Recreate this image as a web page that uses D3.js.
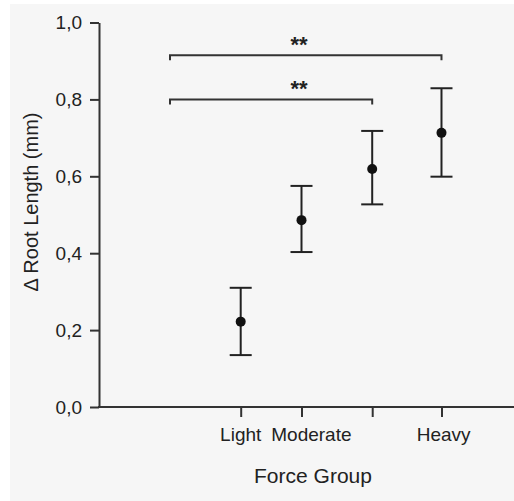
<!DOCTYPE html>
<meta charset="utf-8">
<style>
body { margin: 0; background: #fff; }
svg text { font-family: "Liberation Sans", Arial, sans-serif; fill: #222; }
.axis path, .axis line { stroke: #333; stroke-width: 2; }
</style>
<svg width="514" height="501"></svg>
<script src="https://d3js.org/d3.v7.min.js"></script>
<script>
"use strict";

// data
var groups = ["Light", "Moderate", "", "Heavy"];
var groupX = [1, 1.86, 2.86, 3.84];
var means = [0.222, 0.486, 0.619, 0.713];
var upper = [0.310, 0.575, 0.718, 0.829];
var lower = [0.135, 0.403, 0.527, 0.599];
var labelX = [1, 2, null, 3.87];
var yTicks = [0, 0.2, 0.4, 0.6, 0.8, 1.0];

// significance brackets
var bracketFrom = [0, 0];
var bracketTo = [2.86, 3.84];
var bracketY = [0.8, 0.915];
var bracketText = ["**", "**"];

var svg = d3.select("svg"),
    width = +svg.attr("width"),
    height = +svg.attr("height");

svg.append("rect")
    .attr("x", 10).attr("y", 4)
    .attr("width", width - 10).attr("height", height - 4)
    .attr("fill", "#f6f6f6");

var x0 = 99, yBottom = 407;
var x = d3.scaleLinear().domain([0, 4]).range([170, 452.8]);
var y = d3.scaleLinear().domain([0, 1]).range([yBottom, 22.5]);

// y axis
var yAxis = svg.append("g")
    .attr("class", "axis")
    .attr("transform", "translate(" + x0 + ",0)")
    .call(d3.axisLeft(y)
      .tickValues(yTicks)
      .tickSize(9)
      .tickSizeOuter(0)
      .tickPadding(8)
      .tickFormat(function(d) { return d3.format(".1f")(d).replace(".", ","); }));
yAxis.selectAll("text").attr("font-size", 19).attr("font-family", null);

// x axis
var xAxis = svg.append("g")
    .attr("class", "axis")
    .attr("transform", "translate(0," + yBottom + ")")
    .call(d3.axisBottom(x).tickValues(groupX).tickSize(10).tickFormat(""));
xAxis.select(".domain").remove();
xAxis.append("line")
    .attr("x1", x0 - 1).attr("x2", width)
    .attr("y1", 0).attr("y2", 0);

svg.append("g").selectAll("text")
    .data(groups.filter(function(d, i) { return labelX[i] != null; }))
    .enter().append("text")
      .attr("x", function(d) { return x(labelX[groups.indexOf(d)]); })
      .attr("y", 441)
      .attr("text-anchor", "middle")
      .attr("font-size", 19)
      .text(function(d) { return d; });

svg.append("text")
    .attr("x", 313).attr("y", 483)
    .attr("text-anchor", "middle")
    .attr("font-size", 21)
    .text("Force Group");

svg.append("text")
    .attr("transform", "translate(38,202) rotate(-90)")
    .attr("text-anchor", "middle")
    .attr("font-size", 20)
    .text("\u0394 Root Length (mm)");

// error bars
var bars = svg.append("g")
    .attr("stroke", "#222")
    .attr("stroke-width", 2);

groupX.forEach(function(gx, i) {
  var cx = x(gx);
  bars.append("line").attr("x1", cx).attr("x2", cx)
      .attr("y1", y(upper[i])).attr("y2", y(lower[i]));
  bars.append("line").attr("x1", cx - 11).attr("x2", cx + 11)
      .attr("y1", y(upper[i])).attr("y2", y(upper[i]));
  bars.append("line").attr("x1", cx - 11).attr("x2", cx + 11)
      .attr("y1", y(lower[i])).attr("y2", y(lower[i]));
});

svg.append("g").selectAll("circle")
    .data(means)
    .enter().append("circle")
      .attr("cx", function(d, i) { return x(groupX[i]); })
      .attr("cy", function(d) { return y(d); })
      .attr("r", 5)
      .attr("fill", "#111");

// brackets
bracketY.forEach(function(by, i) {
  var xa = x(bracketFrom[i]), xb = x(bracketTo[i]), yy = y(by);
  svg.append("path")
      .attr("d", "M" + xa + "," + (yy + 5) + "V" + yy + "H" + xb + "V" + (yy + 5))
      .attr("fill", "none")
      .attr("stroke", "#333")
      .attr("stroke-width", 2);
  svg.append("text")
      .attr("x", 299).attr("y", yy - 3)
      .attr("text-anchor", "middle")
      .attr("font-size", 22)
      .attr("font-weight", "bold")
      .text(bracketText[i]);
});
</script>
